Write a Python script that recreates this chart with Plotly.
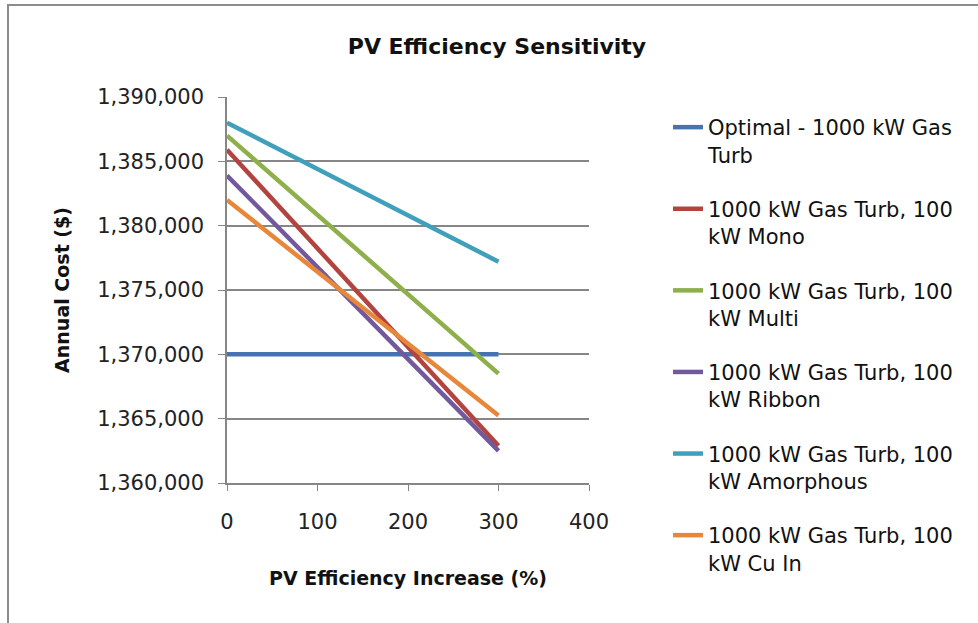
import plotly.graph_objects as go

x_vals = [0, 300]
series_names = [
    "Optimal - 1000 kW Gas<br>Turb",
    "1000 kW Gas Turb, 100<br>kW Mono",
    "1000 kW Gas Turb, 100<br>kW Multi",
    "1000 kW Gas Turb, 100<br>kW Ribbon",
    "1000 kW Gas Turb, 100<br>kW Amorphous",
    "1000 kW Gas Turb, 100<br>kW Cu In",
]
optimal = [1370000, 1370000]
mono = [1385900, 1362900]
multi = [1387000, 1368500]
ribbon = [1383900, 1362500]
amorphous = [1388000, 1377200]
cu_in = [1382000, 1365250]
series_values = [optimal, mono, multi, ribbon, amorphous, cu_in]
colors = ["#4674b0", "#b3433f", "#8db04b", "#72599b", "#40a0bb", "#e8873a"]

y_ticks = [1360000, 1365000, 1370000, 1375000, 1380000, 1385000, 1390000]
x_ticks = [0, 100, 200, 300, 400]

FONT = "DejaVu Sans"

fig = go.Figure()
for i, (name, vals, col) in enumerate(zip(series_names, series_values, colors)):
    fig.add_trace(go.Scatter(
        x=x_vals, y=vals, mode="lines", name=name,
        line=dict(color=col, width=4.5),
        legendgroup=f"g{i}",
    ))

L, R, T, B = 227, 389, 97, 140
W, H = 978, 623
pw, ph = W - L - R, H - T - B

def px_to_paper_x(px):
    return (px - L) / pw

def px_to_paper_y(py):
    return (H - B - py) / ph

fig.update_layout(
    width=W, height=H,
    margin=dict(l=L, r=R, t=T, b=B, autoexpand=False),
    paper_bgcolor="white", plot_bgcolor="white",
    font=dict(family=FONT, size=21, color="#222222"),
    title=dict(text="<b>PV Efficiency Sensitivity</b>", x=497 / W, xanchor="center",
               y=1 - 46 / H, yanchor="middle", font=dict(family=FONT, size=22, color="#111111")),
    showlegend=True,
    legend=dict(
        x=px_to_paper_x(668), y=px_to_paper_y(107), xanchor="left", yanchor="top",
        font=dict(family=FONT, size=21, color="#111111"),
        traceorder="grouped", tracegroupgap=24, bgcolor="rgba(0,0,0,0)",
        maxheight=620, valign="top",
    ),
    xaxis=dict(
        range=[0, 400], tickvals=x_ticks, showgrid=False, zeroline=False,
        showline=True, linecolor="#868686", linewidth=1.5,
        ticks="outside", ticklen=6, tickcolor="#868686", ticklabelstandoff=13,
        title=dict(text="<b>PV Efficiency Increase (%)</b>", standoff=39,
                   font=dict(family=FONT, size=19, color="#111111")),
    ),
    yaxis=dict(
        range=[1360000, 1390000], tickvals=y_ticks, tickformat=",d",
        showgrid=True, gridcolor="#868686", gridwidth=1.5, zeroline=False,
        showline=True, linecolor="#868686", linewidth=1.5,
        ticks="outside", ticklen=7, tickcolor="#868686", ticklabelstandoff=10,
        title=dict(text="<b>Annual Cost ($)</b>", standoff=23,
                   font=dict(family=FONT, size=19, color="#111111")),
    ),
    shapes=[dict(
        type="rect", xref="paper", yref="paper",
        x0=px_to_paper_x(8), x1=px_to_paper_x(990),
        y0=px_to_paper_y(640), y1=px_to_paper_y(5),
        line=dict(color="#8c8c8c", width=2), fillcolor="rgba(0,0,0,0)", layer="below",
    )],
)

fig.write_html("out.html", config={"displayModeBar": False},
               post_script="document.body.style.margin='0';")
